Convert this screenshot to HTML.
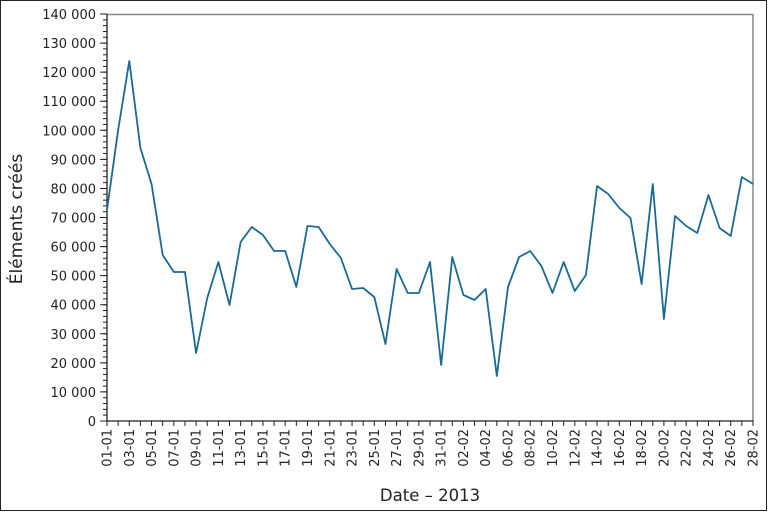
<!DOCTYPE html>
<html><head><meta charset="utf-8"><style>body{margin:0;background:#fff}svg{display:block}</style></head>
<body>
<svg width="768" height="512" viewBox="0 0 768 512" xmlns="http://www.w3.org/2000/svg" font-family="'DejaVu Sans','Liberation Sans',sans-serif">
<rect x="0" y="0" width="768" height="512" fill="#fff"/>
<rect x="0.5" y="0.5" width="766" height="510" fill="none" stroke="#222" stroke-width="1"/>
<line x1="107" y1="14.5" x2="753" y2="14.5" stroke="#888" stroke-width="1.5"/>
<line x1="753" y1="14" x2="753" y2="421" stroke="#888" stroke-width="1.5"/>
<line x1="107" y1="14" x2="107" y2="421.5" stroke="#222" stroke-width="1.3"/>
<line x1="106.5" y1="421" x2="753.5" y2="421" stroke="#222" stroke-width="1.3"/>
<line x1="105" y1="421.5" x2="105" y2="13" stroke="#222" stroke-width="4" stroke-dasharray="1 4.814"/>
<line x1="103.5" y1="421.5" x2="103.5" y2="13" stroke="#222" stroke-width="7" stroke-dasharray="1 28.07"/>
<line x1="106.5" y1="423.5" x2="754" y2="423.5" stroke="#222" stroke-width="5" stroke-dasharray="1 10.138"/>
<g font-size="13" fill="#222" text-anchor="end">
<text x="96" y="426">0</text>
<text x="96" y="396.9">10 000</text>
<text x="96" y="367.9">20 000</text>
<text x="96" y="338.8">30 000</text>
<text x="96" y="309.7">40 000</text>
<text x="96" y="280.6">50 000</text>
<text x="96" y="251.6">60 000</text>
<text x="96" y="222.5">70 000</text>
<text x="96" y="193.4">80 000</text>
<text x="96" y="164.4">90 000</text>
<text x="96" y="135.3">100 000</text>
<text x="96" y="106.2">110 000</text>
<text x="96" y="77.1">120 000</text>
<text x="96" y="48.1">130 000</text>
<text x="96" y="19">140 000</text>
</g>
<g font-size="13" fill="#222" text-anchor="end">
<text transform="translate(111.5,429) rotate(-90)">01-01</text>
<text transform="translate(133.8,429) rotate(-90)">03-01</text>
<text transform="translate(156,429) rotate(-90)">05-01</text>
<text transform="translate(178.3,429) rotate(-90)">07-01</text>
<text transform="translate(200.6,429) rotate(-90)">09-01</text>
<text transform="translate(222.9,429) rotate(-90)">11-01</text>
<text transform="translate(245.2,429) rotate(-90)">13-01</text>
<text transform="translate(267.4,429) rotate(-90)">15-01</text>
<text transform="translate(289.7,429) rotate(-90)">17-01</text>
<text transform="translate(312,429) rotate(-90)">19-01</text>
<text transform="translate(334.3,429) rotate(-90)">21-01</text>
<text transform="translate(356.5,429) rotate(-90)">23-01</text>
<text transform="translate(378.8,429) rotate(-90)">25-01</text>
<text transform="translate(401.1,429) rotate(-90)">27-01</text>
<text transform="translate(423.4,429) rotate(-90)">29-01</text>
<text transform="translate(445.6,429) rotate(-90)">31-01</text>
<text transform="translate(467.9,429) rotate(-90)">02-02</text>
<text transform="translate(490.2,429) rotate(-90)">04-02</text>
<text transform="translate(512.5,429) rotate(-90)">06-02</text>
<text transform="translate(534.7,429) rotate(-90)">08-02</text>
<text transform="translate(557,429) rotate(-90)">10-02</text>
<text transform="translate(579.3,429) rotate(-90)">12-02</text>
<text transform="translate(601.6,429) rotate(-90)">14-02</text>
<text transform="translate(623.8,429) rotate(-90)">16-02</text>
<text transform="translate(646.1,429) rotate(-90)">18-02</text>
<text transform="translate(668.4,429) rotate(-90)">20-02</text>
<text transform="translate(690.7,429) rotate(-90)">22-02</text>
<text transform="translate(712.9,429) rotate(-90)">24-02</text>
<text transform="translate(735.2,429) rotate(-90)">26-02</text>
<text transform="translate(757.5,429) rotate(-90)">28-02</text>
</g>
<text x="430" y="501" font-size="16.5" fill="#222" text-anchor="middle">Date – 2013</text>
<text transform="translate(22,219) rotate(-90)" font-size="17" fill="#222" text-anchor="middle">Éléments créés</text>
<polyline fill="none" stroke="#1a6a94" stroke-width="1.8" stroke-linejoin="round" points="
107,210 118.14,130 129.28,61 140.41,148 151.55,184 162.69,255 173.83,272 184.97,272 196.1,353 207.24,298 218.38,262 229.52,305 240.66,242 251.79,227 262.93,235 274.07,251 285.21,251 296.35,287 307.48,226 318.62,227 329.76,244 340.9,258 352.04,289 363.17,288 374.31,297 385.45,344 396.59,269 407.73,293 418.86,293 430,262 441.14,365 452.28,257 463.42,295 474.55,300 485.69,289 496.83,376 507.97,287 519.11,257 530.24,251 541.38,266 552.52,293 563.66,262 574.8,291 585.93,275 597.07,186 608.21,194 619.35,208 630.49,218 641.62,284 652.76,184 663.9,319 675.04,216 686.18,226 697.31,233 708.45,195 719.59,228 730.73,236 741.87,177 753,184"/>
</svg>
</body></html>
